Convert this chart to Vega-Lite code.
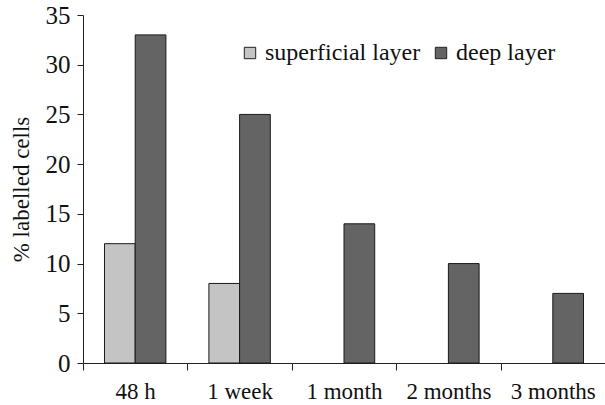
{
  "$schema": "https://vega.github.io/schema/vega-lite/v6.json",
  "width": 522,
  "height": 348,
  "autosize": {"type": "none"},
  "padding": {"left": 83, "top": 15, "right": 0, "bottom": 42},
  "background": "white",
  "config": {
    "view": {"stroke": null},
    "font": "Times New Roman, serif",
    "axis": {"labelFont": "Times New Roman, serif", "titleFont": "Times New Roman, serif"},
    "legend": {"labelFont": "Times New Roman, serif"}
  },
  "data": {
    "values": [
      {"time": "48 h", "layer": "superficial layer", "pct": 12},
      {"time": "48 h", "layer": "deep layer", "pct": 33},
      {"time": "1 week", "layer": "superficial layer", "pct": 8},
      {"time": "1 week", "layer": "deep layer", "pct": 25},
      {"time": "1 month", "layer": "deep layer", "pct": 14},
      {"time": "2 months", "layer": "deep layer", "pct": 10},
      {"time": "3 months", "layer": "deep layer", "pct": 7}
    ]
  },
  "mark": {"type": "bar", "stroke": "#1a1a1a", "strokeWidth": 1},
  "encoding": {
    "x": {
      "field": "time",
      "type": "nominal",
      "sort": ["48 h", "1 week", "1 month", "2 months", "3 months"],
      "scale": {"paddingInner": 0, "paddingOuter": 0},
      "axis": {
        "title": null,
        "labelAngle": 0,
        "labelFontSize": 23,
        "labelColor": "#111",
        "labelPadding": 10,
        "domainColor": "#222",
        "tickColor": "#222",
        "tickSize": 7,
        "tickBand": "extent"
      }
    },
    "xOffset": {
      "field": "layer",
      "type": "nominal",
      "scale": {"domain": ["superficial layer", "deep layer"], "paddingOuter": 0.7, "paddingInner": 0}
    },
    "y": {
      "field": "pct",
      "type": "quantitative",
      "scale": {"domain": [0, 35], "nice": false},
      "axis": {
        "title": "% labelled cells",
        "titleFontSize": 23,
        "titleFontWeight": "normal",
        "titleColor": "#111",
        "titlePadding": 12,
        "values": [0, 5, 10, 15, 20, 25, 30, 35],
        "grid": false,
        "labelFontSize": 25,
        "labelColor": "#111",
        "labelPadding": 7,
        "domainColor": "#222",
        "tickColor": "#222",
        "tickSize": 6
      }
    },
    "fill": {
      "field": "layer",
      "type": "nominal",
      "scale": {"domain": ["superficial layer", "deep layer"], "range": ["#c4c4c4", "#646464"]},
      "legend": {
        "title": null,
        "orient": "none",
        "legendX": 155,
        "legendY": 26,
        "direction": "horizontal",
        "columns": 2,
        "columnPadding": 8,
        "symbolType": "square",
        "symbolSize": 130,
        "symbolStrokeColor": "#222",
        "symbolStrokeWidth": 1,
        "labelFontSize": 24,
        "labelColor": "#111",
        "labelOffset": 3,
        "labelLimit": 300
      }
    }
  }
}
